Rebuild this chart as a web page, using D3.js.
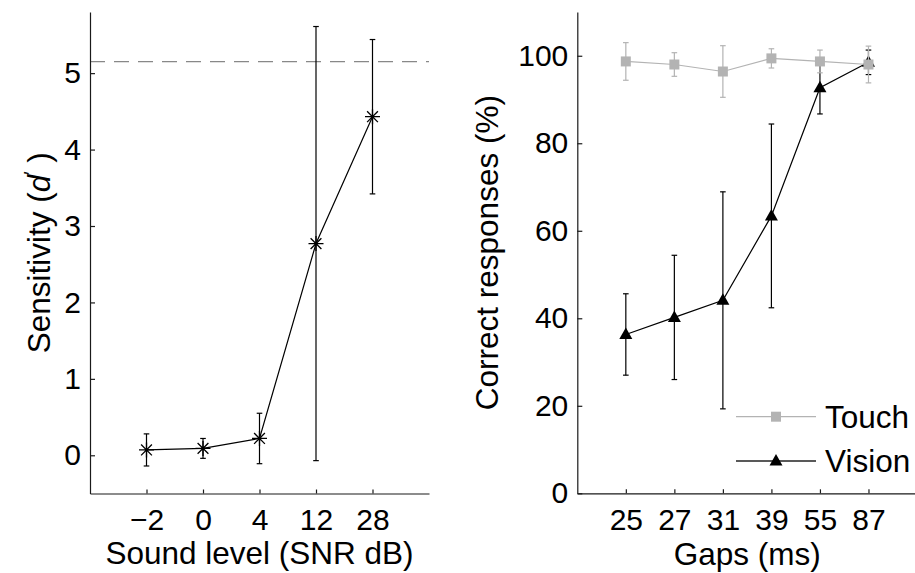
<!DOCTYPE html>
<html>
<head>
<meta charset="utf-8">
<script src="https://cdn.jsdelivr.net/npm/d3@7"></script>
<style>
  html, body { margin: 0; padding: 0; background: #fff; }
  svg { display: block; font-family: "Liberation Sans", Arial, Helvetica, sans-serif; }
</style>
</head>
<body>
<svg id="chart" width="915" height="573"></svg>
<script>
// ---- Data (left panel) ----
const soundLevels = ["\u22122", "0", "4", "12", "28"];
const sensitivity = [0.07, 0.09, 0.22, 2.77, 4.43];
const sensitivityErr = [0.21, 0.13, 0.33, 2.84, 1.01];
const dprimeCeiling = 5.15;
const sensitivityTicks = [0, 1, 2, 3, 4, 5];

// ---- Data (right panel) ----
const gaps = ["25", "27", "31", "39", "55", "87"];
const touch = [98.7, 98.0, 96.4, 99.4, 98.7, 98.0];
const touchErr = [4.3, 2.7, 5.9, 2.2, 2.6, 4.2];
const vision = [36.3, 40.2, 44.1, 63.4, 92.7, 98.5];
const visionErr = [9.3, 14.2, 24.8, 21.0, 6.0, 2.8];
const percentTicks = [0, 20, 40, 60, 80, 100];
const seriesNames = ["Touch", "Vision"];

const svg = d3.select("#chart");
const FS = 30;     // tick labels
const TFS = 31.5;  // titles & legend
const axisColor = "#1a1a1a";
const gray = "#b3b3b3";

function styleAxis(g) {
  g.selectAll(".domain").attr("stroke", axisColor).attr("stroke-width", 1.2);
  g.selectAll(".tick line").attr("stroke", axisColor).attr("stroke-width", 1.2);
  g.selectAll(".tick text").attr("fill", "#000").style("font-size", FS + "px")
    .style("font-family", "'Liberation Sans', Arial, sans-serif");
}

function errorBars(g, xs, ys, es, xScale, yScale, color) {
  const cap = 2.8;
  const grp = g.append("g");
  xs.forEach((xv, i) => {
    const x = xScale(xv), y1 = yScale(ys[i] + es[i]), y0 = yScale(ys[i] - es[i]);
    grp.append("line").attr("x1", x).attr("x2", x).attr("y1", y1).attr("y2", y0)
      .attr("stroke", color).attr("stroke-width", 1.2);
    grp.append("line").attr("x1", x - cap).attr("x2", x + cap).attr("y1", y1).attr("y2", y1)
      .attr("stroke", color).attr("stroke-width", 1.2);
    grp.append("line").attr("x1", x - cap).attr("x2", x + cap).attr("y1", y0).attr("y2", y0)
      .attr("stroke", color).attr("stroke-width", 1.2);
  });
}

// ================= LEFT PANEL =================
const xL = d3.scaleLinear().domain([0, 6]).range([90, 429]);
const yL = d3.scaleLinear().domain([-0.5, 5.8]).range([493.5, 12]);
const idxL = soundLevels.map((d, i) => i + 1);

const left = svg.append("g");

// dashed ceiling line
left.append("line")
  .attr("x1", xL(0)).attr("x2", xL(6))
  .attr("y1", yL(dprimeCeiling)).attr("y2", yL(dprimeCeiling))
  .attr("stroke", "#888").attr("stroke-width", 1.2)
  .attr("stroke-dasharray", "15,9");

left.append("g").attr("transform", `translate(0,${yL(-0.5)})`)
  .call(d3.axisBottom(xL).tickValues(idxL).tickFormat((d, i) => soundLevels[i])
    .tickSizeInner(-4).tickSizeOuter(0).tickPadding(15))
  .call(styleAxis);
left.append("g").attr("transform", `translate(${xL(0)},0)`)
  .call(d3.axisLeft(yL).tickValues(sensitivityTicks).tickFormat(d3.format("d"))
    .tickSizeInner(-5).tickSizeOuter(0).tickPadding(9))
  .call(styleAxis);

errorBars(left, idxL, sensitivity, sensitivityErr, xL, yL, "#000");

left.append("path")
  .datum(sensitivity)
  .attr("fill", "none").attr("stroke", "#000").attr("stroke-width", 1.2)
  .attr("d", d3.line().x((d, i) => xL(idxL[i])).y(d => yL(d)));

const star = (s) => {
  const d = s * 0.72;
  return `M0,${-s}L0,${s}M${-s},0L${s},0M${-d},${-d}L${d},${d}M${-d},${d}L${d},${-d}`;
};
left.append("g").selectAll("path").data(sensitivity).join("path")
  .attr("transform", (d, i) => `translate(${xL(idxL[i])},${yL(d)})`)
  .attr("d", star(7.5)).attr("stroke", "#000").attr("stroke-width", 1.3).attr("fill", "none");

left.append("text")
  .attr("x", (xL(0) + xL(6)) / 2).attr("y", 564)
  .attr("text-anchor", "middle").style("font-size", TFS + "px")
  .text("Sound level (SNR dB)");

const ylab = left.append("text")
  .attr("transform", `translate(50,${(yL(-0.5) + yL(5.8)) / 2}) rotate(-90)`)
  .attr("text-anchor", "middle").style("font-size", TFS + "px");
ylab.append("tspan").text("Sensitivity (");
ylab.append("tspan").style("font-style", "italic").text("d");
ylab.append("tspan").attr("dy", -13).style("font-size", "18px").text("\u2032");
ylab.append("tspan").attr("dy", 13).text(" )");

// ================= RIGHT PANEL =================
const xR = d3.scaleLinear().domain([0, 7]).range([577.3, 917]);
const yR = d3.scaleLinear().domain([0, 110]).range([493.3, 12]);
const idxR = gaps.map((d, i) => i + 1);

const right = svg.append("g");

right.append("g").attr("transform", `translate(0,${yR(0)})`)
  .call(d3.axisBottom(xR).tickValues(idxR).tickFormat((d, i) => gaps[i])
    .tickSizeInner(-4).tickSizeOuter(0).tickPadding(15))
  .call(styleAxis);
right.append("g").attr("transform", `translate(${xR(0)},0)`)
  .call(d3.axisLeft(yR).tickValues(percentTicks).tickFormat(d3.format("d"))
    .tickSizeInner(-5).tickSizeOuter(0).tickPadding(9))
  .call(styleAxis);

const lineR = d3.line().x((d, i) => xR(idxR[i])).y(d => yR(d));
const tri = "M0,-7L6.5,4.5L-6.5,4.5Z";
const sq = "M-5,-5H5V5H-5Z";

// Vision
errorBars(right, idxR, vision, visionErr, xR, yR, "#000");
right.append("path").datum(vision)
  .attr("fill", "none").attr("stroke", "#000").attr("stroke-width", 1.2).attr("d", lineR);
right.append("g").selectAll("path").data(vision).join("path")
  .attr("transform", (d, i) => `translate(${xR(idxR[i])},${yR(d)})`)
  .attr("d", tri).attr("fill", "#000");

// Touch
errorBars(right, idxR, touch, touchErr, xR, yR, gray);
right.append("path").datum(touch)
  .attr("fill", "none").attr("stroke", gray).attr("stroke-width", 1.2).attr("d", lineR);
right.append("g").selectAll("path").data(touch).join("path")
  .attr("transform", (d, i) => `translate(${xR(idxR[i])},${yR(d)})`)
  .attr("d", sq).attr("fill", gray);

right.append("text")
  .attr("x", (577.3 + 917) / 2).attr("y", 565)
  .attr("text-anchor", "middle").style("font-size", TFS + "px")
  .text("Gaps (ms)");

right.append("text")
  .attr("transform", `translate(498,${(yR(0) + yR(110)) / 2}) rotate(-90)`)
  .attr("text-anchor", "middle").style("font-size", TFS + "px")
  .text("Correct responses (%)");

// Legend
const legend = right.append("g");
const legendItems = [
  { name: seriesNames[0], color: gray, marker: sq, y: 416.7 },
  { name: seriesNames[1], color: "#222", marker: tri, y: 461 }
];
legendItems.forEach(it => {
  legend.append("line").attr("x1", 736).attr("x2", 816).attr("y1", it.y).attr("y2", it.y)
    .attr("stroke", it.color).attr("stroke-width", 1.3);
  legend.append("path").attr("transform", `translate(776,${it.y})`).attr("d", it.marker)
    .attr("fill", it.color === gray ? gray : "#000");
  legend.append("text").attr("x", 825).attr("y", it.y).attr("dy", "0.36em")
    .style("font-size", TFS + "px").text(it.name);
});
</script>
</body>
</html>
